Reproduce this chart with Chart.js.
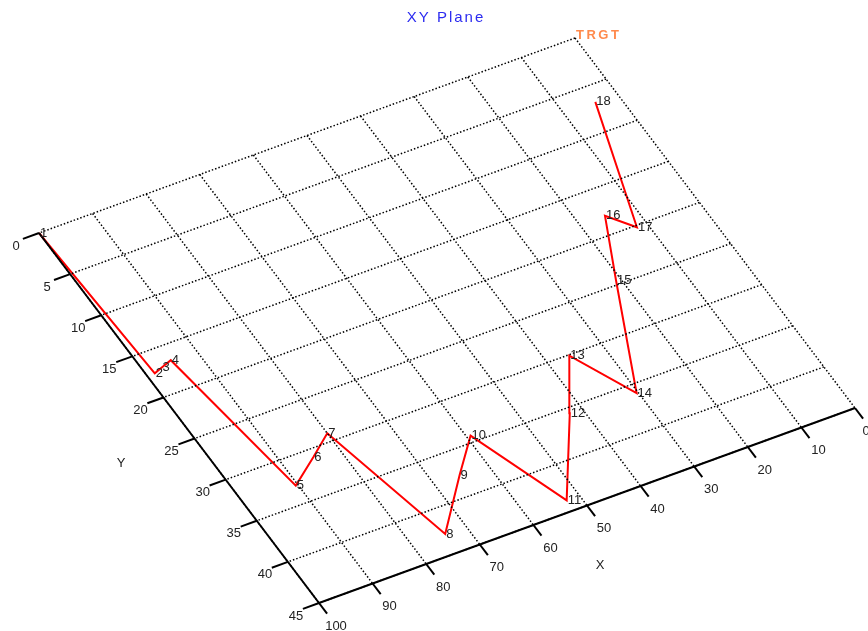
<!DOCTYPE html>
<html>
<head>
<meta charset="utf-8">
<script src="https://cdn.jsdelivr.net/npm/chart.js@4.4.1/dist/chart.umd.min.js"></script>
<style>
  html, body { margin: 0; padding: 0; background: #ffffff; }
  #wrap { width: 868px; height: 631px; }
</style>
</head>
<body>
<div id="wrap"><canvas id="c" width="868" height="631"></canvas></div>
<script>
// Path through the XY plane
const pointLabels = ['1','2','3','4','5','6','7','8','9','10','11','12','13','14','15','16','17','18'];
const pathX = [100, 98.6, 97.0, 94.8, 90.4, 84.7, 80.0, 73.9, 65.3, 59.3, 52.4, 42.3, 36.0, 30.3, 20.8, 15.3, 11.9, 4.1];
const pathY = [0, 17.4, 17.1, 16.7, 33.0, 30.9, 29.1, 42.8, 37.7, 34.3, 43.8, 35.6, 30.1, 36.0, 24.5, 18.0, 20.2, 6.8];

// Axis ticks
const xTicks = [0, 10, 20, 30, 40, 50, 60, 70, 80, 90, 100];
const yTicks = [0, 5, 10, 15, 20, 25, 30, 35, 40, 45];

const X_MIN = 0, X_MAX = 100, Y_MIN = 0, Y_MAX = 45;

// Oblique view of the plane: screen position of the (X=100, Y=0) corner
// and the screen vectors spanned by the full X and Y ranges.
const view = { ox: 39, oy: 233, ex: [536, -195], ey: [280, 370] };

function project(x, y) {
  const u = (X_MAX - x) / (X_MAX - X_MIN);
  const v = (y - Y_MIN) / (Y_MAX - Y_MIN);
  return {
    x: view.ox + u * view.ex[0] + v * view.ey[0],
    y: view.oy + u * view.ex[1] + v * view.ey[1]
  };
}

function segment(x0, y0, x1, y1, style) {
  return Object.assign({
    data: [project(x0, y0), project(x1, y1)],
    showLine: true,
    pointRadius: 0,
    pointHoverRadius: 0,
    fill: false
  }, style);
}

const gridStyle = { borderColor: '#000000', borderWidth: 1.5, borderDash: [1.5, 2] };
const axisStyle = { borderColor: '#000000', borderWidth: 2 };

const datasets = [];
// dotted grid
xTicks.forEach(x => datasets.push(segment(x, Y_MIN, x, Y_MAX, gridStyle)));
yTicks.forEach(y => datasets.push(segment(X_MIN, y, X_MAX, y, gridStyle)));
// solid axes
datasets.push(segment(X_MAX, Y_MAX, X_MIN, Y_MAX, axisStyle));
datasets.push(segment(X_MAX, Y_MIN, X_MAX, Y_MAX, axisStyle));
// tick marks
xTicks.forEach(x => datasets.push(segment(x, Y_MAX, x, Y_MAX + 1.3, axisStyle)));
yTicks.forEach(y => datasets.push(segment(X_MAX, y, X_MAX + 3, y, axisStyle)));
// the path
datasets.push({
  data: pathX.map((x, i) => project(x, pathY[i])),
  showLine: true,
  borderColor: '#ff0000',
  borderWidth: 2,
  pointRadius: 0,
  pointHoverRadius: 0,
  fill: false,
  lineTension: 0
});

const FONT = '"Liberation Sans", Arial, sans-serif';

const labelPlugin = {
  id: 'planeLabels',
  afterDatasetsDraw(chart) {
    const ctx = chart.ctx;
    const sx = chart.scales.x, sy = chart.scales.y;
    const px = p => ({ x: sx.getPixelForValue(p.x), y: sy.getPixelForValue(p.y) });
    ctx.save();

    // tick labels
    ctx.font = '13px ' + FONT;
    ctx.fillStyle = '#222222';
    ctx.textAlign = 'center';
    ctx.textBaseline = 'middle';
    xTicks.forEach(x => {
      const p = px(project(x, Y_MAX));
      ctx.fillText(String(x), Math.min(p.x + 17, chart.width - 2), p.y + 23);
    });
    yTicks.forEach(y => {
      const p = px(project(X_MAX, y));
      ctx.fillText(String(y), p.x - 23, p.y + 13);
    });

    // axis titles
    const xt = px(project(50, Y_MAX));
    ctx.fillText('X', xt.x + 13, xt.y + 60);
    const yt = px(project(X_MAX, 22.5));
    ctx.fillText('Y', yt.x - 58, yt.y + 45);

    // point numbers
    ctx.textAlign = 'left';
    pathX.forEach((x, i) => {
      const p = px(project(x, pathY[i]));
      ctx.fillText(pointLabels[i], p.x + 1, p.y);
    });

    // corner tag
    const c = px(project(X_MIN, Y_MIN));
    ctx.font = 'bold 13px ' + FONT;
    ctx.fillStyle = '#ff8a4c';
    if ('letterSpacing' in ctx) ctx.letterSpacing = '2.5px';
    ctx.textAlign = 'left';
    ctx.fillText('TRGT', c.x + 1, c.y - 3);

    // title
    ctx.font = '15px ' + FONT;
    ctx.fillStyle = '#2b2bf0';
    if ('letterSpacing' in ctx) ctx.letterSpacing = '2px';
    ctx.textAlign = 'center';
    ctx.fillText('XY Plane', 446, 18);
    ctx.restore();
  }
};

new Chart(document.getElementById('c'), {
  type: 'scatter',
  data: { datasets },
  options: {
    responsive: false,
    animation: false,
    devicePixelRatio: 1,
    layout: { padding: 0 },
    plugins: { legend: { display: false }, tooltip: { enabled: false }, title: { display: false } },
    scales: {
      x: { type: 'linear', min: 0, max: 868, display: false },
      y: { type: 'linear', min: 0, max: 631, reverse: true, display: false }
    }
  },
  plugins: [labelPlugin]
});
</script>
</body>
</html>
